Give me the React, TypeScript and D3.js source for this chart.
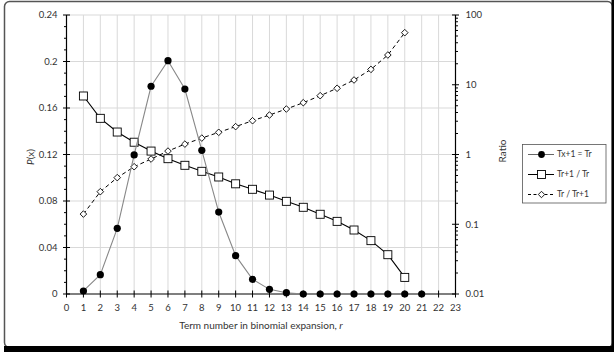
import React from "react";
import * as d3 from "d3";

const terms = d3.range(1, 22);
const probValues = [0.0026, 0.0166, 0.0565, 0.1196, 0.1787, 0.2007, 0.1763, 0.1236, 0.0705, 0.033, 0.0126, 0.004, 0.0011, 0, 0, 0, 0, 0, 0, 0, 0];
const ratioTerms = d3.range(1, 21);
const nextOverThis = [6.9, 3.3, 2.1, 1.5, 1.12, 0.871, 0.70, 0.574, 0.476, 0.38, 0.317, 0.262, 0.213, 0.175, 0.139, 0.110, 0.0827, 0.0582, 0.0366, 0.0173];
const thisOverNext = [0.140, 0.293, 0.466, 0.668, 0.861, 1.12, 1.41, 1.72, 2.08, 2.51, 3.05, 3.68, 4.49, 5.53, 6.97, 8.9, 11.7, 16.6, 26.7, 55.8];
const leftTicks = [0, 0.04, 0.08, 0.12, 0.16, 0.2, 0.24];
const rightTicks = [0.01, 0.1, 1, 10, 100];
const xTicks = d3.range(0, 24);
const legendLabels = ["Tx+1 = Tr", "Tr+1 / Tr", "Tr / Tr+1"];

const W = 614, H = 352;
const L = 66.5, R = 455.5, T = 15, B = 294;
const FONT = "Lato, 'Open Sans', sans-serif";
const TXT = "#333";

export default function App() {
  const x = d3.scaleLinear().domain([0, 23]).range([L, R]);
  const yL = d3.scaleLinear().domain([0, 0.24]).range([B, T]);
  const yR = d3.scaleLog().domain([0.01, 100]).range([B, T]);

  const lineP = d3.line<number>().x((_, i) => x(terms[i])).y(d => yL(d));
  const lineR = d3.line<number>().x((_, i) => x(ratioTerms[i])).y(d => yR(d));

  const minorLeft = d3.range(0, 0.2401, 0.01).filter((_, i) => i % 4 !== 0);
  const minorRight: number[] = [];
  for (let e = -2; e < 2; e++) for (let m = 2; m <= 9; m++) minorRight.push(m * Math.pow(10, e));

  const diamond = (cx: number, cy: number, s: number) =>
    `M${cx},${cy - s}L${cx + s},${cy}L${cx},${cy + s}L${cx - s},${cy}Z`;

  return (
    <svg width={W} height={H} style={{ position: "absolute", left: 0, top: 0, background: "#fff" }} fontFamily={FONT}>
      <rect x={0} y={0} width={W} height={H} fill="#fff" />
      {/* frame */}
      <rect x={4.5} y={1.5} width={608} height={346} rx={5} fill="#fff" stroke="#555" strokeWidth={1.5} />
      <rect x={4} y={346} width={610} height={6} fill="#000" />
      <rect x={611.5} y={0} width={2.5} height={352} fill="#000" />

      {/* gridlines */}
      {xTicks.filter(t => t > 0 && t < 23).map(t => (
        <line key={"gx" + t} x1={x(t)} x2={x(t)} y1={T} y2={B} stroke="#d9d9d9" strokeWidth={1} />
      ))}
      {leftTicks.filter(t => t > 0).map(t => (
        <line key={"gy" + t} x1={L} x2={R} y1={yL(t)} y2={yL(t)} stroke="#d9d9d9" strokeWidth={1} />
      ))}

      {/* axes */}
      <line x1={L} x2={L} y1={T} y2={B} stroke="#000" strokeWidth={1.2} />
      <line x1={R} x2={R} y1={T} y2={B} stroke="#000" strokeWidth={1.2} />
      <line x1={L} x2={R} y1={B} y2={B} stroke="#000" strokeWidth={1.2} />

      {leftTicks.map(t => (
        <g key={"lt" + t}>
          <line x1={L - 3.5} x2={L + 3.5} y1={yL(t)} y2={yL(t)} stroke="#000" />
          <text x={L - 9} y={yL(t)} dy="0.35em" textAnchor="end" fontSize={9.5} fill={TXT}>{String(t)}</text>
        </g>
      ))}
      {minorLeft.map((t, i) => (
        <line key={"lm" + i} x1={L - 2.5} x2={L} y1={yL(t)} y2={yL(t)} stroke="#000" />
      ))}
      {rightTicks.map(t => (
        <g key={"rt" + t}>
          <line x1={R - 3.5} x2={R + 3.5} y1={yR(t)} y2={yR(t)} stroke="#000" />
          <text x={R + 10} y={yR(t)} dy="0.35em" textAnchor="start" fontSize={9.5} fill={TXT}>{String(t)}</text>
        </g>
      ))}
      {minorRight.map((t, i) => (
        <line key={"rm" + i} x1={R} x2={R + 2.5} y1={yR(t)} y2={yR(t)} stroke="#000" />
      ))}
      {xTicks.map(t => (
        <g key={"xt" + t}>
          <line x1={x(t)} x2={x(t)} y1={B - 3.5} y2={B + 3.5} stroke="#000" />
          <text x={x(t)} y={B + 14} dy="0.35em" textAnchor="middle" fontSize={9.5} fill={TXT}>{t}</text>
        </g>
      ))}

      {/* axis titles */}
      <text transform={`translate(34,157) rotate(-90)`} textAnchor="middle" fontSize={10} fill={TXT}>
        <tspan fontStyle="italic">P</tspan>(x)
      </text>
      <text transform={`translate(506,151) rotate(-90)`} textAnchor="middle" fontSize={10} fill={TXT}>Ratio</text>
      <text x={261} y={329} textAnchor="middle" fontSize={10} fill={TXT}>
        Term number in binomial expansion, <tspan fontStyle="italic">r</tspan>
      </text>

      {/* series: Tr / Tr+1 dashed diamonds */}
      <path d={lineR(thisOverNext) || ""} fill="none" stroke="#000" strokeWidth={1} strokeDasharray="4,3" />
      {thisOverNext.map((v, i) => (
        <path key={"d" + i} d={diamond(x(ratioTerms[i]), yR(v), 3.3)} fill="#fff" stroke="#000" strokeWidth={0.9} />
      ))}

      {/* series: Tr+1 / Tr squares */}
      <path d={lineR(nextOverThis) || ""} fill="none" stroke="#000" strokeWidth={1.1} />
      {nextOverThis.map((v, i) => (
        <rect key={"s" + i} x={x(ratioTerms[i]) - 4} y={yR(v) - 4} width={8} height={8} fill="#fff" stroke="#000" strokeWidth={0.9} />
      ))}

      {/* series: P(x) gray line black dots */}
      <path d={lineP(probValues) || ""} fill="none" stroke="#888" strokeWidth={1.1} />
      {probValues.map((v, i) => (
        <circle key={"c" + i} cx={x(terms[i])} cy={yL(v)} r={3.6} fill="#000" />
      ))}

      {/* legend */}
      <rect x={522.5} y={144.5} width={83.5} height={58.5} fill="#fff" stroke="#555" strokeWidth={0.8} />
      {legendLabels.map((lab, i) => {
        const ly = 154.5 + i * 20;
        return (
          <g key={"lg" + i}>
            <line x1={528} x2={554} y1={ly} y2={ly} stroke={i === 0 ? "#666" : "#000"} strokeWidth={1}
              strokeDasharray={i === 2 ? "3,2.5" : undefined} />
            {i === 0 && <circle cx={541.5} cy={ly} r={3.4} fill="#000" />}
            {i === 1 && <rect x={537.5} y={ly - 4} width={8} height={8} fill="#fff" stroke="#000" strokeWidth={0.9} />}
            {i === 2 && <path d={diamond(541.5, ly, 3.2)} fill="#fff" stroke="#000" strokeWidth={0.9} />}
            <text x={557} y={ly} dy="0.35em" fontSize={8.5} fill={TXT}>{lab}</text>
          </g>
        );
      })}
    </svg>
  );
}
